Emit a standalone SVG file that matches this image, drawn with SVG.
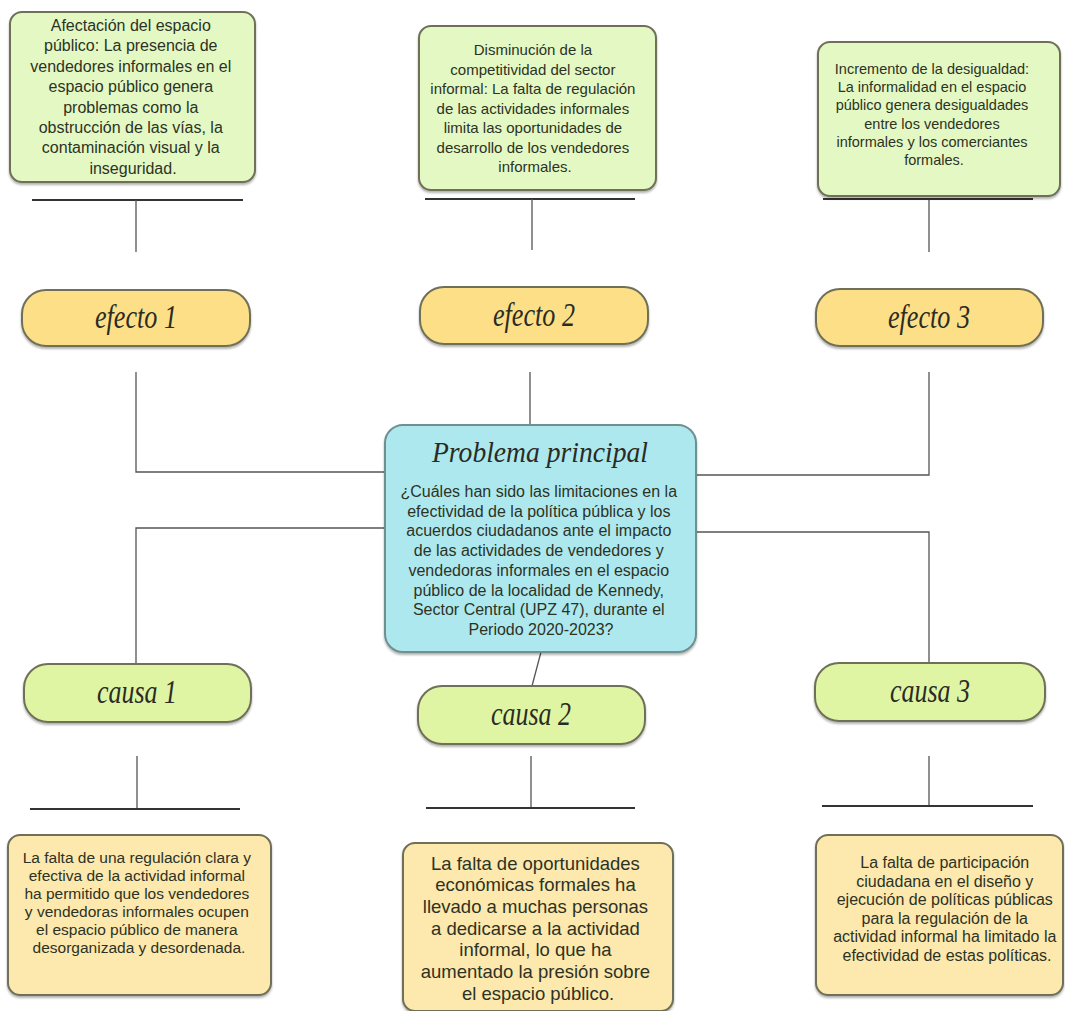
<svg xmlns="http://www.w3.org/2000/svg" width="1065" height="1011" viewBox="0 0 1065 1011">
<defs>
<filter id="sh" x="-5%" y="-5%" width="110%" height="115%"><feDropShadow dx="0" dy="2" stdDeviation="1.2" flood-color="#000" flood-opacity="0.3"/></filter>
</defs>
<style>
.box{stroke:#6f7058;stroke-width:2;filter:url(#sh)}
.eff{fill:#e4f8c4}
.bot{fill:#fde8ae}
.pe{fill:#fddf88}
.pc{fill:#e0f5a4}
.prob{fill:#aee8ef;stroke:#6f8f8f}
.t{font-family:"Liberation Sans",Arial,sans-serif;fill:#2c3324;text-anchor:middle}
.lab{font-family:"Liberation Serif","Times New Roman",serif;font-style:italic;fill:#2a2c24;text-anchor:middle}
.ln{stroke:#555;stroke-width:1.3;fill:none}
.hl{stroke:#333;stroke-width:1.8;fill:none}
</style>
<rect width="1065" height="1011" fill="#fff"/>
<g id="connectors">
<path class="hl" d="M32 200H243M425 199H635M823 199H1033"/>
<path class="ln" d="M136 200V252M532 199V250M929 200V252"/>
<path class="ln" d="M136 372V472H385M530 372V425M929 372V475H695"/>
<path class="ln" d="M385 528H136V664M695 532H929V663M541 652L532 686"/>
<path class="ln" d="M137 756V809M531 756V808M929 756V806"/>
<path class="hl" d="M30 809H240M426 808H635M822 806H1033"/>
</g>
<g id="efecto1-desc">
<rect class="box eff" x="10" y="12" width="245" height="170" rx="12"/>
<text class="t" font-size="16">
<tspan x="133" y="31">Afectación del espacio</tspan>
<tspan x="133" y="51.4">público: La presencia de</tspan>
<tspan x="133" y="71.8">vendedores informales en el</tspan>
<tspan x="133" y="92.2">espacio público genera</tspan>
<tspan x="133" y="112.6">problemas como la</tspan>
<tspan x="133" y="133">obstrucción de las vías, la</tspan>
<tspan x="133" y="153.4">contaminación visual y la</tspan>
<tspan x="133" y="173.8">inseguridad.</tspan>
</text>
</g>
<g id="efecto2-desc">
<rect class="box eff" x="419" y="26" width="237" height="164" rx="12"/>
<text class="t" font-size="15">
<tspan x="535" y="55">Disminución de la</tspan>
<tspan x="535" y="74.5">competitividad del sector</tspan>
<tspan x="535" y="94">informal: La falta de regulación</tspan>
<tspan x="535" y="113.5">de las actividades informales</tspan>
<tspan x="535" y="133">limita las oportunidades de</tspan>
<tspan x="535" y="152.5">desarrollo de los vendedores</tspan>
<tspan x="535" y="172">informales.</tspan>
</text>
</g>
<g id="efecto3-desc">
<rect class="box eff" x="818" y="42" width="242" height="154" rx="12"/>
<text class="t" font-size="14.5">
<tspan x="934" y="74">Incremento de la desigualdad:</tspan>
<tspan x="934" y="92.2">La informalidad en el espacio</tspan>
<tspan x="934" y="110.4">público genera desigualdades</tspan>
<tspan x="934" y="128.6">entre los vendedores</tspan>
<tspan x="934" y="146.8">informales y los comerciantes</tspan>
<tspan x="934" y="165">formales.</tspan>
</text>
</g>
<g id="efecto1">
<rect class="box pe" x="22" y="290" width="228" height="56" rx="24"/>
<text class="lab" x="136" y="328" font-size="33" textLength="82" lengthAdjust="spacingAndGlyphs">efecto 1</text>
</g>
<g id="efecto2">
<rect class="box pe" x="420" y="287" width="228" height="57" rx="24"/>
<text class="lab" x="534" y="326" font-size="33" textLength="82" lengthAdjust="spacingAndGlyphs">efecto 2</text>
</g>
<g id="efecto3">
<rect class="box pe" x="816" y="289" width="227" height="57" rx="24"/>
<text class="lab" x="929" y="328" font-size="33" textLength="82" lengthAdjust="spacingAndGlyphs">efecto 3</text>
</g>
<g id="problema">
<rect class="box prob" x="385" y="425" width="311" height="227" rx="18"/>
<text class="lab" x="540" y="462" font-size="30" textLength="216" lengthAdjust="spacingAndGlyphs">Problema principal</text>
<text class="t" font-size="16">
<tspan x="541" y="497">¿Cuáles han sido las limitaciones en la</tspan>
<tspan x="541" y="516.7">efectividad de la política pública y los</tspan>
<tspan x="541" y="536.4">acuerdos ciudadanos ante el impacto</tspan>
<tspan x="541" y="556.1">de las actividades de vendedores y</tspan>
<tspan x="541" y="575.8">vendedoras informales en el espacio</tspan>
<tspan x="541" y="595.5">público de la localidad de Kennedy,</tspan>
<tspan x="541" y="615.2">Sector Central (UPZ 47), durante el</tspan>
<tspan x="541" y="634.9">Periodo 2020-2023?</tspan>
</text>
</g>
<g id="causa1">
<rect class="box pc" x="24" y="664" width="227" height="58" rx="24"/>
<text class="lab" x="137" y="703" font-size="33" textLength="80" lengthAdjust="spacingAndGlyphs">causa 1</text>
</g>
<g id="causa2">
<rect class="box pc" x="418" y="686" width="227" height="58" rx="24"/>
<text class="lab" x="531" y="725" font-size="33" textLength="80" lengthAdjust="spacingAndGlyphs">causa 2</text>
</g>
<g id="causa3">
<rect class="box pc" x="815" y="663" width="230" height="58" rx="24"/>
<text class="lab" x="930" y="702" font-size="33" textLength="80" lengthAdjust="spacingAndGlyphs">causa 3</text>
</g>
<g id="causa1-desc">
<rect class="box bot" x="8" y="835" width="263" height="160" rx="12"/>
<text class="t" font-size="15.5">
<tspan x="139" y="863">La falta de una regulación clara y</tspan>
<tspan x="139" y="881">efectiva de la actividad informal</tspan>
<tspan x="139" y="899">ha permitido que los vendedores</tspan>
<tspan x="139" y="917">y vendedoras informales ocupen</tspan>
<tspan x="139" y="935">el espacio público de manera</tspan>
<tspan x="139" y="953">desorganizada y desordenada.</tspan>
</text>
</g>
<g id="causa2-desc">
<rect class="box bot" x="403" y="843" width="270" height="168" rx="12"/>
<text class="t" font-size="18.5">
<tspan x="538" y="869.5">La falta de oportunidades</tspan>
<tspan x="538" y="891.2">económicas formales ha</tspan>
<tspan x="538" y="912.9">llevado a muchas personas</tspan>
<tspan x="538" y="934.6">a dedicarse a la actividad</tspan>
<tspan x="538" y="956.3">informal, lo que ha</tspan>
<tspan x="538" y="978">aumentado la presión sobre</tspan>
<tspan x="538" y="999.7">el espacio público.</tspan>
</text>
</g>
<g id="causa3-desc">
<rect class="box bot" x="816" y="835" width="247" height="160" rx="12"/>
<text class="t" font-size="16">
<tspan x="947" y="868">La falta de participación</tspan>
<tspan x="947" y="886.6">ciudadana en el diseño y</tspan>
<tspan x="947" y="905.2">ejecución de políticas públicas</tspan>
<tspan x="947" y="923.8">para la regulación de la</tspan>
<tspan x="947" y="942.4">actividad informal ha limitado la</tspan>
<tspan x="947" y="961">efectividad de estas políticas.</tspan>
</text>
</g>
</svg>
